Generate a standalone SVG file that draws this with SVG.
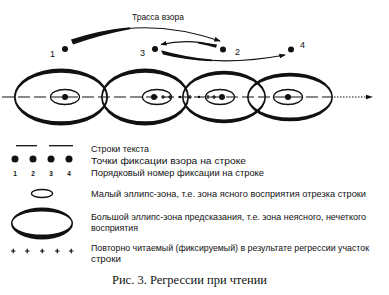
<svg xmlns="http://www.w3.org/2000/svg" width="389" height="295" viewBox="0 0 389 295">
<defs>
<style>
.t{font-family:"Liberation Sans",Arial,sans-serif;font-size:9px;fill:#111}
.n{font-family:"Liberation Sans",Arial,sans-serif;font-size:9px;fill:#111}
.nb{font-family:"Liberation Sans",Arial,sans-serif;font-size:6.5px;font-weight:bold;fill:#111;text-anchor:middle}
.cap{font-family:"Liberation Serif","Times New Roman",serif;font-size:12px;fill:#111}
.ring{fill:#111;fill-rule:evenodd}
.sm{fill:none;stroke:#111;stroke-width:1.3}
.dot{fill:#111}
.pl{stroke:#111;stroke-width:1.2;fill:none}
.arc{fill:none;stroke:#111;stroke-width:1.1}
.wedge{fill:#111}
</style>
<marker id="ah" viewBox="0 0 8 6" refX="7" refY="3" markerWidth="6.5" markerHeight="5" markerUnits="userSpaceOnUse" orient="auto">
<path d="M0,0 L8,3 L0,6 Z" fill="#111"/>
</marker>
</defs>
<rect width="389" height="295" fill="#fff"/>

<g id="title"><text class="t" x="132" y="19.5" textLength="52" lengthAdjust="spacingAndGlyphs" style="font-size:9.5px">Трасса взора</text></g>

<g id="fix1"><circle class="dot" cx="65" cy="49" r="3"/><text class="n" x="50" y="56.5">1</text></g>
<g id="fix2"><circle class="dot" cx="223" cy="49.5" r="3"/><text class="n" x="235" y="55">2</text></g>
<g id="fix3"><circle class="dot" cx="155" cy="49" r="3"/><text class="n" x="140" y="55.5">3</text></g>
<g id="fix4"><circle class="dot" cx="291" cy="49.5" r="3"/><text class="n" x="300" y="48">4</text></g>

<g id="connectors">
<path class="arc" d="M72,42 Q140,14 220,41" marker-end="url(#ah)"/>
<path class="wedge" d="M71,39.6 Q100,30 130,27.3 L130,29.2 Q101,34.5 73,44.6 Z"/>
<path class="arc" d="M216,46 Q190,38 161,44.5" marker-end="url(#ah)"/>
<path class="wedge" d="M217,44.6 Q208,42.8 198,42.2 L198,43.4 Q208,45 216,47.8 Z"/>
<path class="arc" d="M162,52 Q215,68 285,55" marker-end="url(#ah)"/>
<path class="wedge" d="M161,50.2 Q185,57 212,59.6 L212,61.2 Q186,60.5 163,54.6 Z"/>
</g>

<g id="textline">
<line x1="2" y1="97" x2="333" y2="97" stroke="#111" stroke-width="1.2" stroke-dasharray="12 4"/>
<line x1="334" y1="97" x2="366" y2="97" stroke="#111" stroke-width="1.2" stroke-dasharray="1.5 1.5"/>
<path d="M366,94.8 L373,97 L366,99.2 Z" fill="#111"/>
</g>

<g id="zone1">
<path class="ring" d="M14,97 A47,28.5 0 1 0 108,97 A47,28.5 0 1 0 14,97 Z M15.7,97 A45.3,24.3 0 1 0 106.3,97 A45.3,24.3 0 1 0 15.7,97 Z"/>
<ellipse class="sm" cx="65" cy="97" rx="14.5" ry="7.5"/>
<circle class="dot" cx="65" cy="97" r="3"/>
</g>
<g id="zone2">
<path class="ring" d="M101,97 A44,28.5 0 1 0 189,97 A44,28.5 0 1 0 101,97 Z M102.7,97 A42.3,24.3 0 1 0 187.3,97 A42.3,24.3 0 1 0 102.7,97 Z"/>
<ellipse class="sm" cx="157" cy="97" rx="14.5" ry="7.5"/>
<circle class="dot" cx="154" cy="97" r="3"/>
</g>
<g id="zone3">
<path class="ring" d="M182,97 A42,26.3 0 1 0 266,97 A42,26.3 0 1 0 182,97 Z M183.6,97 A40.4,22.5 0 1 0 264.4,97 A40.4,22.5 0 1 0 183.6,97 Z"/>
<ellipse class="sm" cx="220" cy="97" rx="14.5" ry="7.5"/>
<circle class="dot" cx="222" cy="97" r="3"/>
</g>
<g id="zone4">
<path class="ring" d="M247,97 A43,24.3 0 1 0 333,97 A43,24.3 0 1 0 247,97 Z M248.6,97 A41.4,20.5 0 1 0 331.4,97 A41.4,20.5 0 1 0 248.6,97 Z"/>
<ellipse class="sm" cx="288" cy="97" rx="14.5" ry="7.5"/>
<circle class="dot" cx="288" cy="97" r="3"/>
</g>
<g id="regression">
<path class="pl" d="M161,97 h4 M163,95 v4 M168,97 h4 M170,95 v4 M188,97 h4 M190,95 v4 M206,97 h4 M208,95 v4 M212,97 h4 M214,95 v4"/>
<circle class="dot" cx="180" cy="97" r="1.2"/>
<circle class="dot" cx="199" cy="97" r="1.2"/>
</g>

<g id="legend-lines">
<line x1="16" y1="145.7" x2="37" y2="145.7" stroke="#111" stroke-width="1.3"/>
<line x1="49" y1="145.7" x2="73" y2="145.7" stroke="#111" stroke-width="1.3"/>
<text class="t" x="91" y="152" textLength="58" lengthAdjust="spacingAndGlyphs">Строки текста</text>
</g>
<g id="legend-dots">
<circle class="dot" cx="15" cy="159" r="3.5"/>
<circle class="dot" cx="33" cy="159" r="3.5"/>
<circle class="dot" cx="51" cy="159" r="3.5"/>
<circle class="dot" cx="69" cy="159" r="3.5"/>
<text class="t" x="91" y="163.5" textLength="155" lengthAdjust="spacingAndGlyphs">Точки фиксации взора на строке</text>
</g>
<g id="legend-numbers">
<text class="nb" x="15" y="175.5">1</text>
<text class="nb" x="33" y="175.5">2</text>
<text class="nb" x="51" y="175.5">3</text>
<text class="nb" x="69" y="175.5">4</text>
<text class="t" x="91" y="175.5" textLength="173" lengthAdjust="spacingAndGlyphs">Порядковый номер фиксации на строке</text>
</g>
<g id="legend-small">
<ellipse class="sm" cx="42" cy="193.5" rx="10.5" ry="4"/>
<text class="t" x="91" y="196.5" textLength="275" lengthAdjust="spacingAndGlyphs">Малый эллипс-зона, т.е. зона ясного восприятия отрезка строки</text>
</g>
<g id="legend-big">
<path class="ring" d="M11,223.5 A31,16 0 1 0 73,223.5 A31,16 0 1 0 11,223.5 Z M12.5,223 A29.5,11.5 0 1 0 71.5,223 A29.5,11.5 0 1 0 12.5,223 Z"/>
<text class="t" x="91" y="219.5" textLength="275" lengthAdjust="spacingAndGlyphs">Большой эллипс-зона предсказания, т.е. зона неясного, нечеткого</text>
<text class="t" x="91" y="231" textLength="47" lengthAdjust="spacingAndGlyphs">восприятия</text>
</g>
<g id="legend-plus">
<path class="pl" d="M11,251 h4.5 M13.25,248.75 v4.5 M25,251 h4.5 M27.25,248.75 v4.5 M40,251 h4.5 M42.25,248.75 v4.5 M55,251 h4.5 M57.25,248.75 v4.5 M69,251 h4.5 M71.25,248.75 v4.5" stroke-width="1.4"/>
<text class="t" x="91" y="250.5" textLength="278" lengthAdjust="spacingAndGlyphs">Повторно читаемый (фиксируемый) в результате регрессии участок</text>
<text class="t" x="91" y="262" textLength="30" lengthAdjust="spacingAndGlyphs">строки</text>
</g>

<g id="caption"><text class="cap" x="112" y="284" textLength="155" lengthAdjust="spacingAndGlyphs">Рис. 3. Регрессии при чтении</text></g>
</svg>
